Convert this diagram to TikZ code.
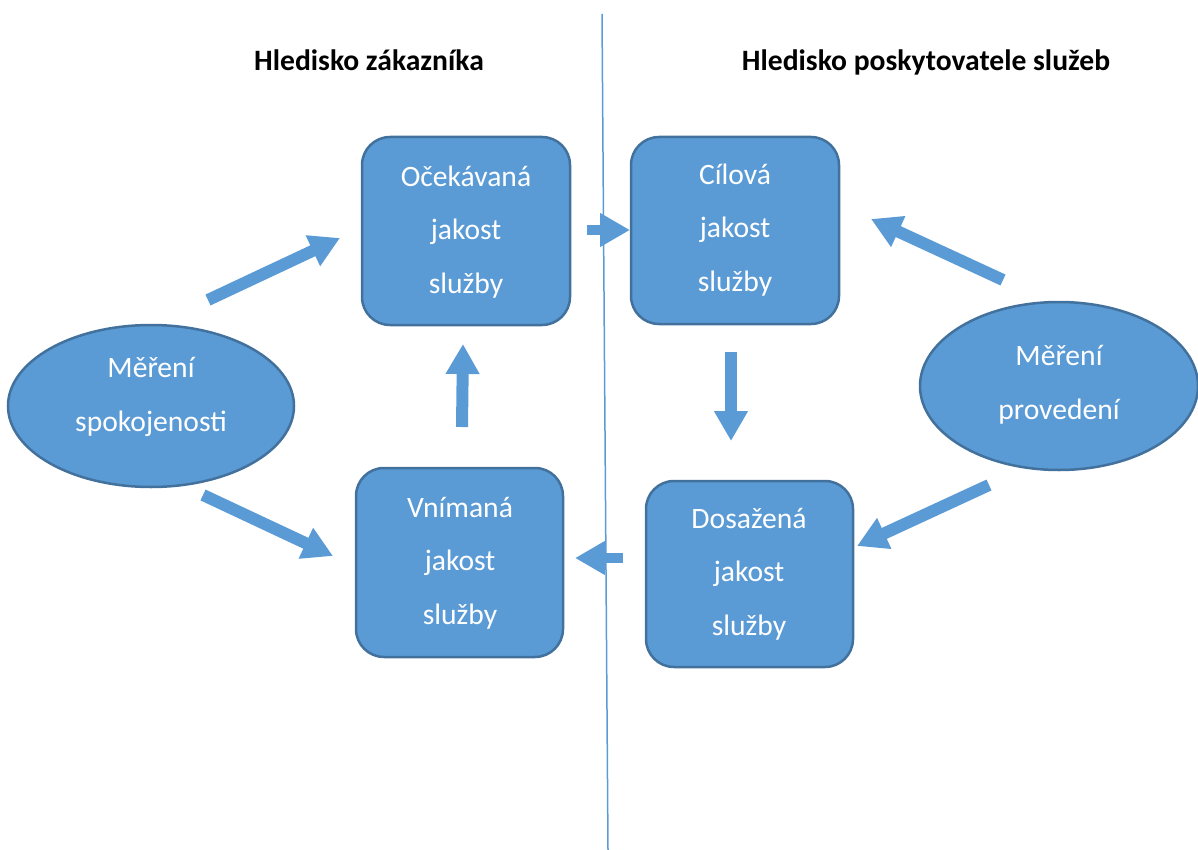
\documentclass[tikz,border=0pt]{standalone}
\usepackage{fontspec}
\setmainfont{Carlito}
\usetikzlibrary{arrows.meta,shapes.geometric}
\definecolor{fillblue}{HTML}{5B9BD5}
\definecolor{edgeblue}{HTML}{41719C}
\tikzset{
  qbox/.style={draw=edgeblue, line width=2.5pt, fill=fillblue, rounded corners=28pt},
  qtext/.style={font=\fontsize{29.6}{53.5}\selectfont, text=white, align=center},
  blockarrow/.style={draw=fillblue, line width=12pt,
    -{Triangle[length=30pt,width=32pt]}},
  title/.style={font=\bfseries\fontsize{29.6}{34}\selectfont, anchor=center}
}
\begin{document}
\begin{tikzpicture}[x=1pt,y=-1pt]
\useasboundingbox (0,0) rectangle (1198,850);
% divider
\coordinate (divtop) at (602,14);
\coordinate (divbot) at (608,850);
\draw[fillblue, line width=1.5pt] (divtop) -- (divbot);
% titles
\node[title] (t1) at (369,60) {Hledisko zákazníka};
\node[title] (t2) at (926,62) {Hledisko poskytovatele služeb};
% boxes
\draw[qbox] (362,137) rectangle (570,325);
\node[qtext] (oce) at (466,232) {Očekávaná\\jakost\\služby};
\draw[qbox] (631,137) rectangle (839,324);
\node[qtext] (cil) at (735,230) {Cílová\\jakost\\služby};
\draw[qbox] (356,468) rectangle (563,657);
\node[qtext] (vni) at (460,563) {Vnímaná\\jakost\\služby};
\draw[qbox] (646,481) rectangle (853,667);
\node[qtext] (dos) at (749,574) {Dosažená\\jakost\\služby};
% ellipses
\draw[edgeblue, line width=2.5pt, fill=fillblue] (151,406) ellipse [x radius=143, y radius=81];
\node[qtext] (spo) at (151,397) {Měření\\spokojenosti};
\draw[edgeblue, line width=2.5pt, fill=fillblue] (1059,386) ellipse [x radius=139, y radius=84];
\node[qtext] (pro) at (1059,385) {Měření\\provedení};
% arrow coordinates
\coordinate (a1s) at (208,300); \coordinate (a1e) at (340,238);
\coordinate (a2s) at (203,495); \coordinate (a2e) at (333,556);
\coordinate (a3s) at (462,427); \coordinate (a3e) at (463,344);
\coordinate (a4s) at (587,230); \coordinate (a4e) at (630,230);
\coordinate (a5s) at (731,352); \coordinate (a5e) at (731,441);
\coordinate (a6s) at (623,558); \coordinate (a6e) at (575,558);
\coordinate (a7s) at (1003,280); \coordinate (a7e) at (871,219);
\coordinate (a8s) at (989,485); \coordinate (a8e) at (857,546);
\draw[blockarrow] (a1s) -- (a1e);
\draw[blockarrow] (a2s) -- (a2e);
\draw[blockarrow] (a3s) -- (a3e);
\draw[blockarrow, line width=10pt] (a4s) -- (a4e);
\draw[blockarrow] (a5s) -- (a5e);
\draw[blockarrow, line width=10pt] (a6s) -- (a6e);
\draw[blockarrow] (a7s) -- (a7e);
\draw[blockarrow] (a8s) -- (a8e);
\end{tikzpicture}
\end{document}
